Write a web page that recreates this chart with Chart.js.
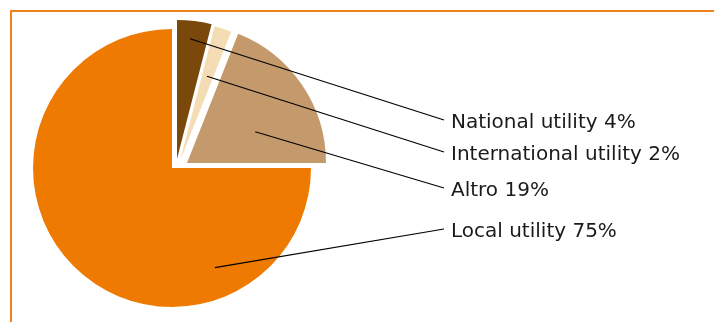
<!DOCTYPE html>
<html>
<head>
<meta charset="utf-8">
<script src="https://cdn.jsdelivr.net/npm/chart.js@4"></script>
<style>
  html, body { margin: 0; padding: 0; background: #fff; overflow: hidden; }
  #wrap { position: relative; width: 714px; height: 322px; }
  #frame { position: absolute; left: 10px; top: 10px; width: 800px; height: 400px;
           border: 2px solid #F0821E; box-sizing: border-box; }
  #mygraph { position: absolute; left: 0; top: 0; }
</style>
</head>
<body>
<div id="wrap">
  <div id="frame"></div>
  <canvas id="mygraph" width="714" height="322"></canvas>
</div>
<script>
// dati
const categories = ["National utility", "International utility", "Altro", "Local utility"];
const values = [4, 2, 19, 75];
const colors = ["#7B480B", "#F4DCB4", "#C49A6C", "#EE7A02"];

// stile: spostamento delle fette esplose (px) e ancore delle linee guida
const explode = [[5, -9], [8, -7], [15, -5], [0, 0]];
const anchors = [[0.43, 0.87], [0.45, 0.64], [0.64, 0.54], [0.247, 0.78]]; // [frazione angolo, frazione raggio]
const labelX = 451;
const labelY = [123, 155, 191, 232];

const explodePlugin = {
  id: 'explode',
  afterDatasetUpdate(chart, args) {
    args.meta.data.forEach((arc, i) => {
      arc.x += explode[i][0];
      arc.y += explode[i][1];
    });
  }
};

const labelPlugin = {
  id: 'leaders',
  afterDatasetsDraw(chart) {
    const ctx = chart.ctx;
    const arcs = chart.getDatasetMeta(0).data;
    ctx.save();
    ctx.font = '20px "DejaVu Sans"';
    ctx.textBaseline = 'middle';
    ctx.fillStyle = '#1a1a1a';
    arcs.forEach((arc, i) => {
      const a = arc.startAngle + (arc.endAngle - arc.startAngle) * anchors[i][0];
      const r = arc.outerRadius * anchors[i][1];
      const sx = arc.x + Math.cos(a) * r;
      const sy = arc.y + Math.sin(a) * r;
      ctx.strokeStyle = '#000';
      ctx.lineWidth = 1.2;
      ctx.beginPath();
      ctx.moveTo(sx, sy);
      ctx.lineTo(labelX - 7, labelY[i] - 3);
      ctx.stroke();
      ctx.fillText(categories[i] + ' ' + values[i] + '%', labelX, labelY[i]);
    });
    ctx.restore();
  }
};

const data = {
  labels: categories,
  datasets: [{
    data: values,
    backgroundColor: colors,
    borderWidth: 0,
    radius: 139
  }]
};

const config = {
  type: 'pie',
  data,
  options: {
    responsive: false,
    animation: false,
    layout: { padding: { left: 0, right: 370, top: 24, bottom: 10 } },
    plugins: {
      legend: { display: false },
      tooltip: { enabled: false }
    }
  },
  plugins: [explodePlugin, labelPlugin]
};

const mygraph = new Chart(document.getElementById('mygraph'), config);
</script>
</body>
</html>
